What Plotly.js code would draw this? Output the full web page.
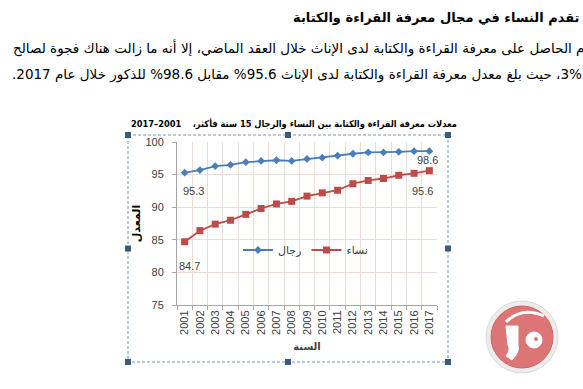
<!DOCTYPE html>
<html>
<head>
<meta charset="utf-8">
<script src="https://cdn.plot.ly/plotly-3.0.1.min.js"></script>
<style>html,body{margin:0;padding:0;background:#fff;}#chart{width:583px;height:389px;}</style>
</head>
<body>
<div id="chart"></div>
<script>
// ---- data ----
const years = ['2001','2002','2003','2004','2005','2006','2007','2008','2009','2010','2011','2012','2013','2014','2015','2016','2017'];
const men   = [95.3, 95.7, 96.3, 96.5, 96.9, 97.1, 97.2, 97.1, 97.4, 97.6, 97.9, 98.2, 98.4, 98.4, 98.5, 98.6, 98.6];
const women = [84.7, 86.4, 87.4, 88.0, 88.9, 89.8, 90.5, 90.9, 91.7, 92.2, 92.6, 93.6, 94.1, 94.4, 94.9, 95.2, 95.6];
const seriesNames = ['رجال', 'نساء'];
const yTicks = [75, 80, 85, 90, 95, 100];

const headline = 'تقدم النساء في مجال معرفة القراءة والكتابة';
const body1 = 'م الحاصل على معرفة القراءة والكتابة لدى الإناث خلال العقد الماضي، إلا أنه ما زالت هناك فجوة لصالح';
const body2 = '3%، حيث بلغ معدل معرفة القراءة والكتابة لدى الإناث 95.6% مقابل 98.6% للذكور خلال عام 2017.';
const chartTitle = 'معدلات معرفة القراءة والكتابة بين النساء والرجال 15 سنة فأكثر،\u00A0\u00A0\u00A0 2001–2017';
const yTitle = 'المعدل';
const xTitle = 'السنة';

// ---- layout helpers (pixel -> paper) ----
const W = 583, H = 389;
const mL = 177, mR = 146, mT = 142, mB = 84;
const pw = W - mL - mR, ph = H - mT - mB;
const P = x => (x - mL) / pw;
const Q = y => (H - mB - y) / ph;
const rtl = s => '\u202B' + s + '\u202C';

const arabicFont = 'DejaVu Sans, Noto Sans, sans-serif';
const arabicCond = 'DejaVu Sans Condensed, DejaVu Sans, sans-serif';
const latinFont = 'Liberation Sans, Arial, sans-serif';

const traces = [
  {
    x: years, y: men, name: seriesNames[0], type: 'scatter', mode: 'lines+markers',
    line: {color: '#4a7ebb', width: 1.8},
    marker: {symbol: 'diamond', size: 6, color: '#4a7ebb'}
  },
  {
    x: years, y: women, name: seriesNames[1], type: 'scatter', mode: 'lines+markers',
    line: {color: '#be4b48', width: 1.8},
    marker: {symbol: 'square', size: 7, color: '#be4b48'}
  }
];

const first = 0, last = years.length - 1;
const lblFont = {family: latinFont, size: 11, color: '#404040'};
const annotations = [
  {x: first, y: men[first], text: men[first].toFixed(1), xshift: 9, yshift: -18},
  {x: last, y: men[last], text: men[last].toFixed(1), xshift: -2, yshift: -9},
  {x: first, y: women[first], text: women[first].toFixed(1), xshift: 5, yshift: -24},
  {x: last, y: women[last], text: women[last].toFixed(1), xshift: -7, yshift: -20}
].map(a => Object.assign({xref: 'x', yref: 'y', showarrow: false, font: lblFont}, a));

// page text
annotations.push(
  {xref: 'paper', yref: 'paper', x: P(581), y: Q(18), xanchor: 'right', yanchor: 'middle',
   text: '<b>' + rtl(headline) + '</b>', showarrow: false, font: {family: arabicFont, size: 13, color: '#000'}},
  {xref: 'paper', yref: 'paper', x: P(586), y: Q(48), xanchor: 'right', yanchor: 'middle',
   text: rtl(body1), showarrow: false, font: {family: arabicFont, size: 13.5, color: '#000'}},
  {xref: 'paper', yref: 'paper', x: P(584), y: Q(75), xanchor: 'right', yanchor: 'middle',
   text: rtl(body2), showarrow: false, font: {family: arabicFont, size: 13.5, color: '#000'}},
  {xref: 'paper', yref: 'paper', x: P(294), y: Q(124), xanchor: 'center', yanchor: 'middle',
   text: '<b>' + rtl(chartTitle) + '</b>', showarrow: false, font: {family: arabicCond, size: 9.2, color: '#000'}}
);

// decorative frame + handles + logo
const shapes = [];
const bx0 = 128, bx1 = 448, by0 = 135, by1 = 362;
shapes.push({type: 'rect', xref: 'paper', yref: 'paper', x0: P(bx0), x1: P(bx1), y0: Q(by0), y1: Q(by1),
  line: {color: '#7d97b1', width: 1, dash: '3px,2px'}, layer: 'below'});
const hx = [bx0, (bx0 + bx1) / 2, bx1], hy = [by0, (by0 + by1) / 2, by1];
hx.forEach((x, i) => hy.forEach((y, j) => {
  if (i === 1 && j === 1) return;
  shapes.push({type: 'rect', xref: 'paper', yref: 'paper', x0: P(x - 3), x1: P(x + 3), y0: Q(y - 3), y1: Q(y + 3),
    fillcolor: '#3f5a78', line: {width: 0}});
}));
const cx = 522, cy = 337;
shapes.push({type: 'circle', xref: 'paper', yref: 'paper', x0: P(cx - 36), x1: P(cx + 36), y0: Q(cy - 36), y1: Q(cy + 36),
  fillcolor: '#ececec', line: {color: '#dadada', width: 1}});
shapes.push({type: 'circle', xref: 'paper', yref: 'paper', x0: P(cx - 31), x1: P(cx + 31), y0: Q(cy - 31), y1: Q(cy + 31),
  fillcolor: '#dc7676', line: {color: '#d06464', width: 1}});
const pth = pts => pts.map(s => typeof s === 'string' ? s : (P(s[0]).toFixed(4) + ',' + Q(s[1]).toFixed(4))).join(' ');
shapes.push({type: 'path', xref: 'paper', yref: 'paper', path: pth(['M', [506, 322], 'Q', [522, 306], [544, 316]]),
  line: {color: '#ffffff', width: 3}});
shapes.push({type: 'path', xref: 'paper', yref: 'paper',
  path: pth(['M', [506, 326], 'L', [518, 326], 'L', [518, 345], 'Q', [520, 352], [512, 360], 'L', [506, 356], 'Q', [511, 350], [508, 345], 'Z']),
  fillcolor: '#ffffff', line: {color: '#ffffff', width: 1}});
shapes.push({type: 'circle', xref: 'paper', yref: 'paper', x0: P(526), x1: P(542), y0: Q(332), y1: Q(348),
  fillcolor: '#ffffff', line: {color: '#ffffff', width: 1}});
shapes.push({type: 'circle', xref: 'paper', yref: 'paper', x0: P(534), x1: P(538), y0: Q(337), y1: Q(341),
  fillcolor: '#dc7676', line: {width: 0}});

const layout = {
  width: W, height: H,
  margin: {l: mL, r: mR, t: mT, b: mB, pad: 0},
  paper_bgcolor: '#ffffff', plot_bgcolor: '#ffffff',
  showlegend: true,
  legend: {orientation: 'h', x: P(238), xanchor: 'left', y: Q(250), yanchor: 'middle',
    bgcolor: 'rgba(0,0,0,0)', font: {family: arabicFont, size: 11, color: '#404040'},
    itemwidth: 30, tracegroupgap: 0},
  xaxis: {
    type: 'category', categoryorder: 'array', categoryarray: years,
    range: [-0.5, years.length - 0.5],
    tickson: 'boundaries', showgrid: true, gridcolor: '#ecdcd2', gridwidth: 1,
    showline: true, linecolor: '#a6a6a6', linewidth: 1, ticks: 'outside', ticklen: 4, tickcolor: '#a6a6a6',
    tickangle: -90, tickfont: {family: latinFont, size: 11, color: '#404040'},
    title: {text: '<b>' + xTitle + '</b>', font: {family: arabicFont, size: 10, color: '#404040'}, standoff: 9},
    fixedrange: true, automargin: false
  },
  yaxis: {
    range: [75, 100], tickvals: yTicks, showgrid: true, gridcolor: '#ecdcd2', gridwidth: 1,
    showline: true, linecolor: '#a6a6a6', linewidth: 1, ticks: 'outside', ticklen: 4, tickcolor: '#a6a6a6',
    tickfont: {family: latinFont, size: 11, color: '#404040'}, ticklabelstandoff: 6, zeroline: false,
    title: {text: '<b>' + yTitle + '</b>', font: {family: arabicFont, size: 11, color: '#000'}, standoff: 2},
    fixedrange: true, automargin: false
  },
  annotations: annotations,
  shapes: shapes
};

Plotly.newPlot('chart', traces, layout, {displayModeBar: false, staticPlot: true});
</script>
</body>
</html>
